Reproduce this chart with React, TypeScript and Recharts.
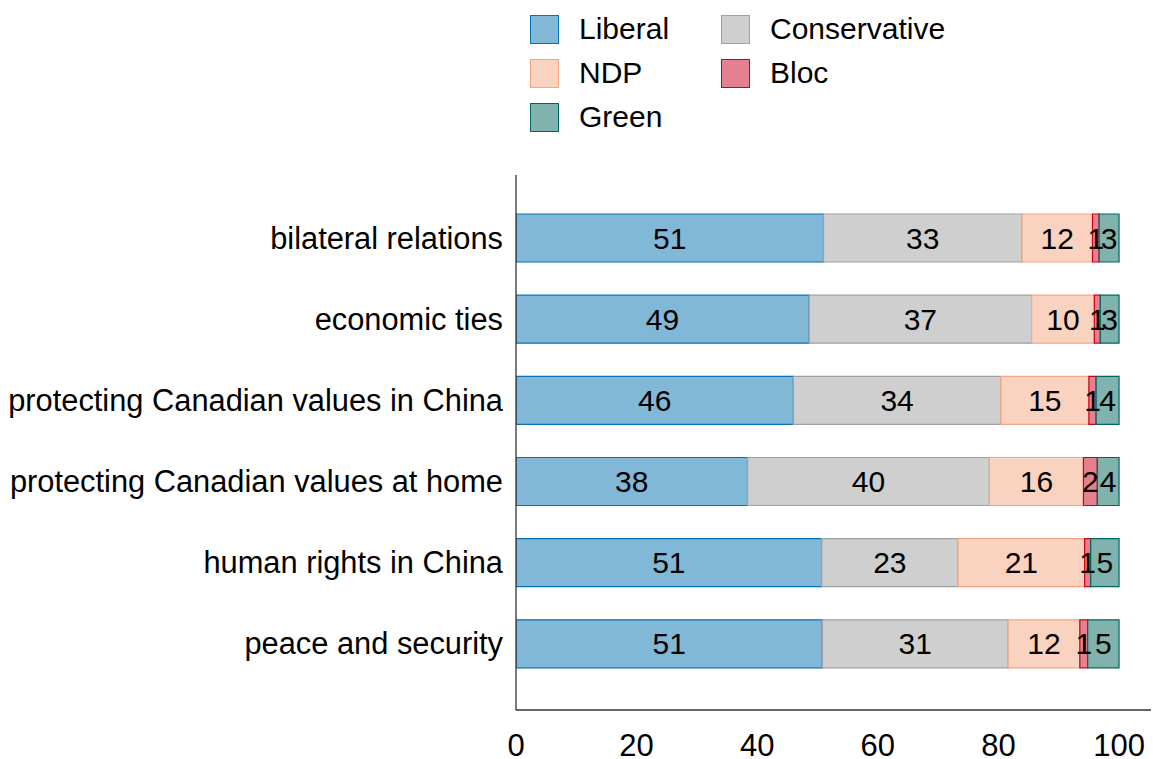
import { Bar, BarChart, LabelList, XAxis, YAxis } from "recharts";

const categories = [
    "bilateral relations",
    "economic ties",
    "protecting Canadian values in China",
    "protecting Canadian values at home",
    "human rights in China",
    "peace and security",
];

const liberal = [51.0, 48.6, 46.0, 38.4, 50.7, 50.8];
const conservative = [32.9, 36.9, 34.4, 40.1, 22.6, 30.8];
const ndp = [11.7, 10.4, 14.6, 15.6, 21.0, 11.9];
const bloc = [1.1, 1.0, 1.2, 2.3, 1.0, 1.3];
const green = [3.3, 3.1, 3.8, 3.6, 4.7, 5.2];

const xTicks = [0, 20, 40, 60, 80, 100];

const series = [
    { key: "liberal", name: "Liberal", stroke: "#0571b0", fill: "#82b8d7" },
    { key: "conservative", name: "Conservative", stroke: "#a0a0a0", fill: "#cfcfcf" },
    { key: "ndp", name: "NDP", stroke: "#f4a582", fill: "#fad2c0" },
    { key: "bloc", name: "Bloc", stroke: "#ca0020", fill: "#e4808f" },
    { key: "green", name: "Green", stroke: "#01665e", fill: "#80b2ae" },
];

const data = categories.map((c, i) => ({
    topic: c,
    liberal: liberal[i],
    conservative: conservative[i],
    ndp: ndp[i],
    bloc: bloc[i],
    green: green[i],
}));

const FONT = "'Liberation Sans', Arial, sans-serif";

// legend order: two columns, filled row by row
const legendOrder = ["liberal", "conservative", "ndp", "bloc", "green"];

function ChartLegend() {
    return (
        <div
            style={{
                position: "absolute",
                left: 530,
                top: 14,
                display: "grid",
                gridTemplateColumns: "191px 240px",
                rowGap: 14,
                fontFamily: FONT,
                fontSize: 30,
                color: "#000",
            }}
        >
            {legendOrder.map((k) => {
                const s = series.find((x) => x.key === k)!;
                return (
                    <div key={k} style={{ display: "flex", alignItems: "center", height: 30 }}>
                        <span
                            style={{
                                width: 27,
                                height: 27,
                                background: s.fill,
                                border: `1.5px solid ${s.stroke}`,
                                display: "inline-block",
                                flex: "none",
                            }}
                        />
                        <span style={{ marginLeft: 20, whiteSpace: "nowrap" }}>{s.name}</span>
                    </div>
                );
            })}
        </div>
    );
}

export default function App() {
    return (
        <div style={{ position: "absolute", left: 0, top: 0, width: 1153, height: 759, background: "#fff" }}>
            <BarChart
                width={1153}
                height={759}
                data={data}
                layout="vertical"
                margin={{ top: 175, right: 2, bottom: 4, left: 0 }}
                barCategoryGap={33}
            >
                <XAxis
                    type="number"
                    domain={[0, 105.3]}
                    ticks={xTicks}
                    tickLine={false}
                    tickSize={0}
                    tickMargin={24}
                    height={45}
                    axisLine={{ stroke: "#333", strokeWidth: 1.3 }}
                    tick={{ fill: "#000", fontSize: 31, fontFamily: FONT }}
                    allowDataOverflow
                />
                <YAxis
                    type="category"
                    dataKey="topic"
                    width={516}
                    tickLine={false}
                    tickSize={0}
                    tickMargin={13}
                    padding={{ top: 22, bottom: 26 }}
                    axisLine={{ stroke: "#333", strokeWidth: 1.3 }}
                    tick={{ fill: "#000", fontSize: 30.8, fontFamily: FONT }}
                    interval={0}
                />
                {series.map((s) => (
                    <Bar
                        key={s.key}
                        dataKey={s.key}
                        name={s.name}
                        stackId="a"
                        fill={s.fill}
                        stroke={s.stroke}
                        strokeWidth={1.2}
                        barSize={48}
                        isAnimationActive={false}
                    >
                        <LabelList
                            dataKey={s.key}
                            position="center"
                            formatter={(v: number) => Math.round(v)}
                            fill="#000"
                            fontSize={30}
                            fontFamily={FONT}
                        />
                    </Bar>
                ))}
            </BarChart>
            <ChartLegend />
        </div>
    );
}
